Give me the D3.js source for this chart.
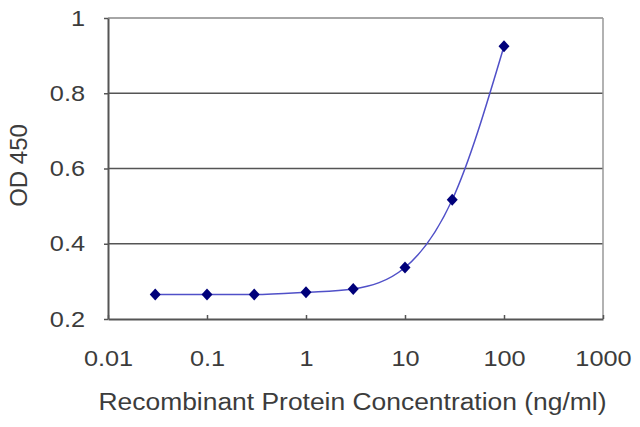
<!DOCTYPE html>
<html><head><meta charset="utf-8">
<script src="https://cdn.jsdelivr.net/npm/d3@7"></script>
<style>body{margin:0;background:#fff}svg{display:block}text{font-family:"Liberation Sans",Arial,sans-serif;fill:#3c3c3c}</style>
</head><body>
<script>
const concentrations = [0.03, 0.1, 0.3, 1, 3, 10, 30, 100];
const od450 = [0.265, 0.265, 0.265, 0.271, 0.28, 0.337, 0.517, 0.925];
const xTicks = [0.01, 0.1, 1, 10, 100, 1000];
const xTickLabels = ["0.01", "0.1", "1", "10", "100", "1000"];
const yTicks = [0.2, 0.4, 0.6, 0.8, 1];
const yTickLabels = ["0.2", "0.4", "0.6", "0.8", "1"];
const xTitle = "Recombinant Protein Concentration (ng/ml)";
const yTitle = "OD 450";

const W = 640, H = 427;
const m = {left: 108, right: 37, top: 18, bottom: 108};
const svg = d3.select("body").append("svg").attr("width", W).attr("height", H);
const x = d3.scaleLog().domain([0.01, 1000]).range([m.left, W - m.right]);
const y = d3.scaleLinear().domain([0.2, 1]).range([H - m.bottom, m.top]);
const stretch = 1.15;

// gridlines
svg.append("g").selectAll("line").data(yTicks.filter(v => v > 0.2)).join("line")
  .attr("x1", m.left).attr("x2", W - m.right)
  .attr("y1", d => y(d)).attr("y2", d => y(d))
  .attr("stroke", d => d === 1 ? "#888" : "#555").attr("stroke-width", 1.6);
// right border
svg.append("line").attr("x1", W - m.right).attr("x2", W - m.right)
  .attr("y1", m.top).attr("y2", H - m.bottom).attr("stroke", "#999").attr("stroke-width", 1.5);

// axes
const xAxis = d3.axisBottom(x).tickValues(xTicks).tickFormat((d, i) => xTickLabels[i]).tickSizeInner(-4).tickSizeOuter(0).tickPadding(20);
const gx = svg.append("g").attr("transform", `translate(0,${H - m.bottom})`).call(xAxis);
gx.select(".domain").attr("stroke", "#555").attr("stroke-width", 2);
gx.selectAll(".tick line").attr("stroke", "#555").attr("stroke-width", 1.5);
gx.selectAll(".tick text").attr("font-size", 22).attr("dy", "0.71em").attr("y", 31);

const yAxis = d3.axisLeft(y).tickValues(yTicks).tickFormat((d, i) => yTickLabels[i]).tickSizeInner(4).tickSizeOuter(0).tickPadding(19);
const gy = svg.append("g").attr("transform", `translate(${m.left},0)`).call(yAxis);
gy.select(".domain").attr("stroke", "#555").attr("stroke-width", 2);
gy.selectAll(".tick line").attr("stroke", "#555").attr("stroke-width", 1.5);
gy.selectAll(".tick text").attr("font-size", 22);

// horizontal stretch of tick text
svg.selectAll(".tick text").each(function() {
  const len = this.getComputedTextLength();
  d3.select(this).attr("textLength", len * stretch).attr("lengthAdjust", "spacingAndGlyphs");
});

// titles
svg.append("text").attr("x", (m.left + W - m.right) / 2 - 3).attr("y", 410)
  .attr("text-anchor", "middle").attr("font-size", 23.5)
  .attr("textLength", 508).attr("lengthAdjust", "spacingAndGlyphs").text(xTitle);
svg.append("text").attr("transform", `translate(27,${y(0.6) - 3}) rotate(-90)`)
  .attr("text-anchor", "middle").attr("font-size", 24).text(yTitle);

// curve
const data = concentrations.map((c, i) => ({c, v: od450[i]}));
const line = d3.line().x(d => x(d.c)).y(d => y(d.v)).curve(d3.curveMonotoneX);
svg.append("path").datum(data).attr("d", line).attr("fill", "none")
  .attr("stroke", "#5050c8").attr("stroke-width", 1.5);

// markers
svg.append("g").selectAll("path").data(data).join("path")
  .attr("transform", d => `translate(${x(d.c)},${y(d.v)})`)
  .attr("d", "M0,-6L5.5,0L0,6L-5.5,0Z").attr("fill", "#00007a");
</script>
</body></html>
